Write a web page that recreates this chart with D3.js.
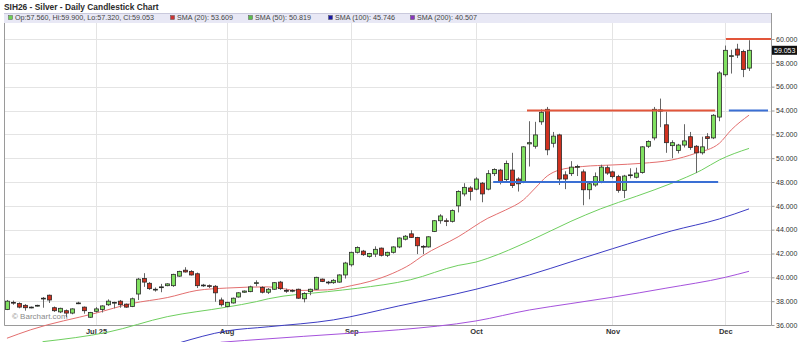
<!DOCTYPE html>
<html>
<head>
<meta charset="utf-8">
<script src="https://cdn.jsdelivr.net/npm/d3@7"></script>
<style>
  body { margin: 0; background: #fff; }
  svg { display: block; font-family: "Liberation Sans", Arial, sans-serif; }
</style>
</head>
<body>
<svg id="chart" width="800" height="342"></svg>
<script>
// trading calendar
const firstDay = '2025-06-09';
const lastDay = '2025-12-05';
const holidays = ['2025-06-19', '2025-07-04', '2025-09-01', '2025-11-27'];
const monthLabels = ['Jul 25', 'Aug', 'Sep', 'Oct', 'Nov', 'Dec'];
const priceTicks = [36, 38, 40, 42, 44, 46, 48, 50, 52, 54, 56, 58, 60];

// daily OHLC
const open = [
  37.3, 37.9, 37.8, 37.65, 37.45, 37.6, 38.2, 38.5, 37.45, 37.1,
  37.2, 37.0, 37.8, 37.5, 36.65, 37.15, 37.3, 37.7, 37.85, 38.0,
  37.75, 37.55, 38.6, 39.9, 39.5, 38.95, 39.15, 39.3, 39.3, 40.1,
  40.6, 40.5, 40.3, 39.3, 39.3, 39.25, 38.1, 37.55, 37.85, 38.35,
  38.75, 38.8, 39.5, 39.15, 38.75, 39.0, 39.6, 38.9, 38.85, 39.0,
  38.2, 38.8, 39.0, 39.85, 39.6, 39.55, 39.6, 40.2, 41.05, 42.1,
  42.2, 41.75, 41.95, 42.45, 41.85, 42.1, 42.55, 43.2, 43.65, 43.35,
  42.6, 42.55, 43.85, 44.75, 44.75, 44.7, 46.0, 47.0, 47.5, 47.4,
  47.9, 47.4, 48.7, 49.0, 48.2, 49.0, 48.25, 48.05, 51.2, 51.0,
  53.05, 54.1, 51.25, 51.95, 48.6, 48.7, 49.25, 48.85, 47.35, 47.75,
  48.05, 49.2, 48.85, 48.45, 47.3, 48.55, 48.4, 48.8, 51.0, 51.7,
  54.05, 52.8, 51.05, 50.65, 51.1, 51.8, 51.0, 50.45, 51.8, 51.7,
  53.45, 57.0, 58.55, 59.15, 58.95, 57.56
];
const high = [
  38.1, 38.05, 37.9, 37.75, 37.55, 37.7, 38.35, 38.55, 37.55, 37.45,
  37.3, 37.4, 37.95, 37.55, 37.1, 37.5, 37.65, 38.15, 37.95, 38.1,
  37.8, 38.3, 39.95, 40.35, 39.6, 39.15, 39.45, 39.5, 40.3, 40.55,
  40.85, 40.6, 40.4, 39.45, 39.4, 39.35, 38.3, 37.95, 38.3, 38.75,
  38.9, 39.3, 39.75, 39.25, 39.1, 39.6, 39.7, 39.05, 39.0, 39.05,
  38.75, 39.05, 40.05, 39.9, 39.7, 39.85, 40.25, 41.3, 42.15, 42.6,
  42.3, 42.05, 42.6, 42.5, 42.15, 42.6, 43.35, 43.55, 43.95, 43.4,
  42.7, 43.45, 44.8, 45.3, 44.95, 45.7, 47.3, 47.9, 47.65, 48.4,
  48.0, 49.0, 49.15, 49.1, 49.8, 50.45, 48.4, 51.0, 53.1, 53.05,
  54.1, 54.3, 52.2, 52.05, 48.9, 49.75, 49.45, 49.05, 47.95, 48.8,
  49.45, 49.4, 48.95, 48.6, 48.6, 49.15, 49.2, 51.0, 51.5, 54.3,
  55.0, 53.9, 51.5, 51.2, 52.85, 52.2, 51.1, 51.8, 52.1, 53.7,
  57.3, 59.45, 59.1, 59.6, 59.1, 59.9
];
const low = [
  37.25, 37.7, 37.4, 37.2, 37.4, 37.55, 37.45, 37.85, 37.1, 37.0,
  36.65, 36.9, 37.75, 36.95, 36.6, 37.05, 37.05, 37.6, 37.4, 37.45,
  37.45, 37.5, 38.1, 39.2, 38.95, 38.8, 38.75, 39.25, 39.2, 40.05,
  40.4, 40.15, 39.1, 39.2, 39.1, 37.95, 37.55, 37.5, 37.8, 38.3,
  38.7, 38.75, 39.25, 38.65, 38.6, 38.95, 38.95, 38.7, 38.75, 38.2,
  37.9, 38.5, 38.95, 39.6, 39.4, 39.45, 39.55, 39.9, 40.9, 42.0,
  41.8, 41.65, 41.7, 41.75, 41.7, 42.0, 42.45, 43.1, 43.3, 41.95,
  41.95, 42.5, 43.8, 44.5, 44.3, 44.6, 45.45, 46.8, 46.45, 47.3,
  46.3, 47.3, 48.5, 47.8, 48.0, 47.5, 47.2, 47.9, 49.3, 50.8,
  52.8, 50.25, 50.9, 47.75, 47.4, 48.5, 48.5, 46.05, 46.55, 47.6,
  47.9, 48.6, 48.3, 47.1, 46.65, 48.3, 48.3, 48.7, 50.85, 51.5,
  52.6, 50.45, 50.0, 50.4, 50.9, 50.7, 48.75, 50.3, 50.75, 51.6,
  53.1, 56.85, 57.1, 58.4, 56.8, 57.32
];
const close = [
  38.0, 37.85, 37.5, 37.45, 37.5, 37.65, 38.25, 38.1, 37.2, 37.4,
  37.0, 37.35, 37.85, 37.2, 37.05, 37.35, 37.6, 38.0, 37.9, 37.7,
  37.5, 38.2, 39.85, 39.6, 39.05, 39.0, 39.2, 39.45, 40.25, 40.5,
  40.45, 40.2, 39.3, 39.35, 39.25, 38.7, 37.7, 37.9, 38.25, 38.7,
  38.85, 39.2, 39.55, 38.75, 39.0, 39.55, 39.05, 38.85, 38.9, 38.25,
  38.65, 39.0, 40.0, 39.65, 39.55, 39.75, 40.2, 41.2, 42.1, 42.5,
  41.9, 42.0, 42.35, 41.85, 42.1, 42.55, 43.3, 43.45, 43.35, 42.65,
  42.55, 43.4, 44.75, 45.15, 44.7, 45.6, 47.2, 47.55, 47.2, 48.25,
  47.0, 48.7, 49.05, 48.05, 49.55, 47.7, 47.85, 50.95, 51.3, 51.95,
  53.85, 50.7, 51.85, 48.25, 48.25, 49.25, 49.3, 47.35, 47.85, 48.45,
  49.25, 48.75, 48.45, 47.3, 48.5, 48.6, 48.75, 50.95, 51.4, 54.1,
  53.95, 51.3, 51.3, 51.1, 51.45, 50.9, 50.45, 50.95, 51.65, 53.6,
  57.15, 59.05, 58.6, 58.65, 57.45, 59.053
];

// moving averages as [bar index, value]
const sma20 = [
  [0, 34.89], [4, 35.6], [15, 37.0], [21, 37.8], [27, 38.3], [32, 38.9],
  [37, 39.1], [44, 39.2], [49, 38.9], [54, 38.95], [58, 39.3], [61, 39.64],
  [65, 40.34], [68, 41.1], [70, 41.8], [76, 43.4], [81, 44.96], [84, 45.65],
  [87, 46.5], [89, 47.5], [91, 48.5], [93, 49.0], [97, 49.3], [102, 49.43],
  [107, 49.57], [112, 49.85], [116, 50.41], [120, 51.25], [122, 52.37], [125, 53.609]
];
const sma50 = [
  [6, 34.6], [17, 35.4], [27, 36.7], [37, 37.5], [42, 37.96], [44, 38.2],
  [54, 38.8], [59, 39.08], [68, 39.8], [76, 41.0], [79, 41.28], [81, 41.6],
  [88, 43.05], [95, 44.7], [100, 45.75], [106, 46.8], [112, 47.9], [117, 49.0],
  [120, 49.85], [125, 50.819]
];
const sma100 = [
  [29, 34.5], [37, 35.5], [44, 35.85], [55, 36.43], [66, 37.6], [79, 39.0],
  [88, 40.2], [95, 41.3], [102, 42.4], [112, 43.9], [120, 44.9], [125, 45.746]
];
const sma200 = [
  [36, 34.55], [40, 34.7], [50, 35.05], [60, 35.38], [66, 35.6], [79, 36.34],
  [88, 37.26], [95, 37.8], [102, 38.33], [111, 39.09], [121, 40.0], [125, 40.507]
];

// hand-drawn level lines: value, from bar, to bar
const levelLines = [
  { value: 54, from: 87.6, to: 119.3, color: '#e2553a' },
  { value: 60, from: 121.1, to: 128.7, color: '#e2553a' },
  { value: 48, from: 81.9, to: 119.8, color: '#3a6fd4' },
  { value: 54, from: 121.6, to: 128.2, color: '#3a6fd4' }
];

const config = {
  plot: { left: 4, right: 771, top: 23, bottom: 325 },
  colors: {
    up: '#80e060',
    down: '#d0311f',
    outline: '#2a2a2a',
    wick: '#666',
    grid: '#e4e4e4',
    axis: '#9a9a9a',
    text: '#333',
    sma20: '#e36f6f',
    sma50: '#6fcf5f',
    sma100: '#3d3dc4',
    sma200: '#a552dc'
  }
};

const parse = d3.utcParse('%Y-%m-%d');
const fmtDay = d3.utcFormat('%Y-%m-%d');
const days = d3.utcDay.range(parse(firstDay), d3.utcDay.offset(parse(lastDay), 1))
  .filter(d => d.getUTCDay() !== 0 && d.getUTCDay() !== 6 && !holidays.includes(fmtDay(d)));
const bars = days.map((d, i) => ({ i, date: d, o: open[i], h: high[i], l: low[i], c: close[i] }));
const monthStarts = bars.filter((b, i) => i > 0 && b.date.getUTCMonth() !== bars[i - 1].date.getUTCMonth()).map(b => b.i);

const { plot, colors } = config;
const svg = d3.select('#chart');

const x = d3.scaleLinear().domain([-0.5, bars.length - 0.5]).range([plot.left, 752]);
const y = d3.scaleLinear().domain([36, 60]).range([plot.bottom, 39]);
const step = x(1) - x(0);
const bodyW = Math.round(step * 0.7);

// title
svg.append('text')
  .attr('x', 4).attr('y', 10)
  .attr('font-size', 8.4).attr('font-weight', 'bold').attr('fill', '#2b2b2b')
  .text('SIH26 - Silver - Daily Candlestick Chart');

// grid
svg.append('g').selectAll('line').data(priceTicks).join('line')
  .attr('x1', plot.left).attr('x2', plot.right)
  .attr('y1', d => Math.round(y(d)) + 0.5).attr('y2', d => Math.round(y(d)) + 0.5)
  .attr('stroke', colors.grid);
svg.append('g').selectAll('line').data(monthStarts).join('line')
  .attr('x1', d => Math.round(x(d)) + 0.5).attr('x2', d => Math.round(x(d)) + 0.5)
  .attr('y1', plot.top).attr('y2', plot.bottom)
  .attr('stroke', colors.grid);

// frame
svg.append('path')
  .attr('d', `M${plot.left + 0.5},${plot.top}V${plot.bottom + 0.5}H${plot.right + 0.5}V${13}`)
  .attr('fill', 'none').attr('stroke', colors.axis);

// legend bar
svg.append('rect')
  .attr('x', plot.left).attr('y', 13).attr('width', plot.right - plot.left).attr('height', 10)
  .attr('fill', '#e8e8f5');
svg.append('line')
  .attr('x1', plot.left).attr('x2', plot.right).attr('y1', 13.5).attr('y2', 13.5)
  .attr('stroke', '#c9c9dc');

const f3 = d3.format('.3f');
const last = bars[bars.length - 1];
const legendItems = [
  { x: 8, color: '#6fd354', label: `Op:${f3(last.o)}, Hi:${f3(last.h)}, Lo:${f3(last.l)}, Cl:${f3(last.c)}` },
  { x: 170, color: '#cc3333', label: `SMA (20): ${f3(sma20[sma20.length - 1][1])}` },
  { x: 248, color: '#5cbf4c', label: `SMA (50): ${f3(sma50[sma50.length - 1][1])}` },
  { x: 328, color: '#1a1aa8', label: `SMA (100): ${f3(sma100[sma100.length - 1][1])}` },
  { x: 410, color: '#8a35c0', label: `SMA (200): ${f3(sma200[sma200.length - 1][1])}` }
];
const legend = svg.append('g').selectAll('g').data(legendItems).join('g')
  .attr('transform', d => `translate(${d.x},15)`);
legend.append('rect')
  .attr('x', 0.5).attr('y', 0.5).attr('width', 4).attr('height', 4)
  .attr('fill', d => d.color).attr('stroke', '#555').attr('stroke-width', 0.5);
legend.append('text')
  .attr('x', 7).attr('y', 5.3)
  .attr('font-size', 7.2).attr('fill', '#444')
  .text(d => d.label);

// axes
const yAxis = svg.append('g')
  .attr('transform', `translate(${plot.right + 0.5},0)`)
  .call(d3.axisRight(y).tickValues(priceTicks).tickFormat(f3).tickSize(3).tickPadding(1.5));
yAxis.select('.domain').remove();
yAxis.selectAll('line').attr('stroke', colors.axis);
yAxis.selectAll('text').attr('font-size', 7).attr('fill', colors.text).attr('font-family', 'Liberation Sans, Arial, sans-serif');

const xAxis = svg.append('g')
  .attr('transform', `translate(0,${plot.bottom})`)
  .call(d3.axisBottom(x).tickValues(monthStarts).tickFormat((d, i) => monthLabels[i]).tickSize(0).tickPadding(4));
xAxis.select('.domain').remove();
xAxis.selectAll('text').attr('font-size', 7.5).attr('font-weight', 'bold').attr('fill', colors.text)
  .attr('font-family', 'Liberation Sans, Arial, sans-serif');

// watermark
svg.append('text')
  .attr('x', 12).attr('y', 319)
  .attr('font-size', 8).attr('fill', '#8a8a8a')
  .text('\u00a9 Barchart.com');

// moving averages
const smaLine = d3.line().x(d => x(d[0])).y(d => y(d[1])).curve(d3.curveMonotoneX);
const smaSeries = [
  { pts: sma200, color: colors.sma200 },
  { pts: sma100, color: colors.sma100 },
  { pts: sma50, color: colors.sma50 },
  { pts: sma20, color: colors.sma20 }
];
svg.append('g').selectAll('path').data(smaSeries).join('path')
  .attr('d', d => smaLine(d.pts))
  .attr('fill', 'none').attr('stroke', d => d.color).attr('stroke-width', 1);

// candles
const candle = svg.append('g').selectAll('g').data(bars).join('g');
candle.append('line')
  .attr('x1', d => Math.round(x(d.i)) + 0.5).attr('x2', d => Math.round(x(d.i)) + 0.5)
  .attr('y1', d => y(d.h)).attr('y2', d => y(d.l))
  .attr('stroke', colors.wick).attr('stroke-width', 1);
candle.append('rect')
  .attr('x', d => Math.round(x(d.i) - bodyW / 2) + 0.5)
  .attr('y', d => y(Math.max(d.o, d.c)))
  .attr('width', bodyW)
  .attr('height', d => Math.max(0.8, Math.abs(y(d.o) - y(d.c))))
  .attr('fill', d => d.c >= d.o ? colors.up : colors.down)
  .attr('stroke', colors.outline).attr('stroke-width', 0.8);

// level lines
svg.append('g').selectAll('line').data(levelLines).join('line')
  .attr('x1', d => x(d.from)).attr('x2', d => x(d.to))
  .attr('y1', d => y(d.value)).attr('y2', d => y(d.value))
  .attr('stroke', d => d.color).attr('stroke-width', 2);

// last price tag
const tagY = y(last.c);
svg.append('rect')
  .attr('x', plot.right + 1).attr('y', tagY - 4.5).attr('width', 25).attr('height', 9)
  .attr('fill', '#111');
svg.append('text')
  .attr('x', plot.right + 3).attr('y', tagY + 2.5)
  .attr('font-size', 7).attr('fill', '#fff')
  .text(f3(last.c));
</script>
</body>
</html>
